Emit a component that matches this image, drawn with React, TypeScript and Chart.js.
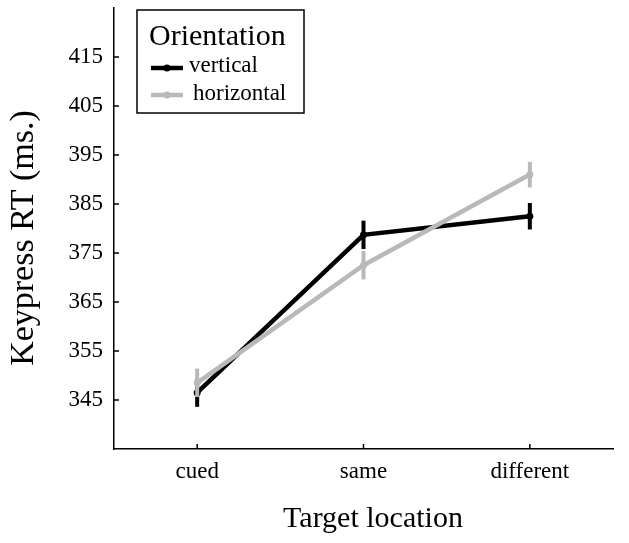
import React, { useEffect, useRef } from "react";
import { Chart, registerables } from "chart.js";

Chart.register(...registerables);

const categories = ["cued", "same", "different"];
const seriesNames = ["vertical", "horizontal"];
const verticalValues = [346.5, 378.7, 382.5];
const horizontalValues = [348.5, 372.5, 391.0];
const verticalErrors = [2.9, 2.9, 2.7];
const horizontalErrors = [2.9, 2.9, 2.6];
const yTickValues = [345, 355, 365, 375, 385, 395, 405, 415];
const yMin = 335;
const yMax = 425;
const legendTitle = "Orientation";
const xTitle = "Target location";
const yTitle = "Keypress RT (ms.)";

const BLACK = "#000000";
const GRAY = "#b9b9b9";
const FONT = "'Liberation Serif', 'Times New Roman', serif";

export default function App() {
  const ref = useRef<HTMLCanvasElement | null>(null);

  useEffect(() => {
    const canvas = ref.current;
    if (!canvas) return;
    const errors = [verticalErrors, horizontalErrors];
    const colors = [BLACK, GRAY];

    const decor = {
      id: "decor",
      afterDatasetDraw(chart: any, args: any) {
        const ctx = chart.ctx;
        const ys = chart.scales.y;
        const idx = args.index;
        const ds = chart.data.datasets[idx];
        const errs = errors[idx];
        ctx.save();
        ctx.strokeStyle = colors[idx];
        ctx.lineWidth = 4;
        ctx.lineCap = "butt";
        args.meta.data.forEach((pt: any, i: number) => {
          const v = ds.data[i] as number;
          const top = ys.getPixelForValue(v + errs[i]);
          const bot = ys.getPixelForValue(v - errs[i]);
          ctx.beginPath();
          ctx.moveTo(pt.x, top);
          ctx.lineTo(pt.x, bot);
          ctx.stroke();
        });
        ctx.restore();
      },
      afterDraw(chart: any) {
        const ctx = chart.ctx;
        const area = chart.chartArea;
        const xs = chart.scales.x;
        const ys = chart.scales.y;
        ctx.save();
        // inward ticks
        ctx.strokeStyle = "#000";
        ctx.lineWidth = 1.5;
        ys.ticks.forEach((t: any) => {
          const y = ys.getPixelForValue(t.value);
          ctx.beginPath();
          ctx.moveTo(area.left, y);
          ctx.lineTo(area.left + 5, y);
          ctx.stroke();
        });
        xs.ticks.forEach((_t: any, i: number) => {
          const x = xs.getPixelForTick(i);
          ctx.beginPath();
          ctx.moveTo(x, area.bottom);
          ctx.lineTo(x, area.bottom - 5);
          ctx.stroke();
        });
        // axis titles
        ctx.fillStyle = "#000";
        ctx.font = `30px ${FONT}`;
        ctx.textAlign = "center";
        ctx.textBaseline = "alphabetic";
        ctx.fillText(xTitle, 373, 527);
        ctx.save();
        ctx.translate(24, 238);
        ctx.rotate(-Math.PI / 2);
        ctx.font = `34px ${FONT}`;
        ctx.textBaseline = "middle";
        ctx.fillText(yTitle, 0, 0);
        ctx.restore();
        // legend
        ctx.fillStyle = "#fff";
        ctx.fillRect(137, 10, 167, 103);
        ctx.strokeStyle = "#000";
        ctx.lineWidth = 1.5;
        ctx.strokeRect(137, 10, 167, 103);
        ctx.fillStyle = "#000";
        ctx.textAlign = "left";
        ctx.textBaseline = "alphabetic";
        ctx.font = `30px ${FONT}`;
        ctx.fillText(legendTitle, 149, 45);
        const rows = [
          { y: 68, tx: 189, ty: 72 },
          { y: 95, tx: 193, ty: 100 },
        ];
        chart.data.datasets.forEach((ds: any, i: number) => {
          const r = rows[i];
          ctx.strokeStyle = colors[i];
          ctx.fillStyle = colors[i];
          ctx.lineWidth = 4.5;
          ctx.beginPath();
          ctx.moveTo(151, r.y);
          ctx.lineTo(183, r.y);
          ctx.stroke();
          ctx.beginPath();
          ctx.arc(167, r.y, 3.5, 0, Math.PI * 2);
          ctx.fill();
          ctx.fillStyle = "#000";
          ctx.font = `23px ${FONT}`;
          ctx.fillText(ds.label, r.tx, r.ty);
        });
        ctx.restore();
      },
    };

    const chart = new Chart(canvas, {
      type: "line",
      data: {
        labels: categories,
        datasets: [
          {
            label: seriesNames[0],
            data: verticalValues,
            borderColor: BLACK,
            backgroundColor: BLACK,
            borderWidth: 4.5,
            pointRadius: 3.5,
            pointBorderWidth: 0,
            order: 1,
          },
          {
            label: seriesNames[1],
            data: horizontalValues,
            borderColor: GRAY,
            backgroundColor: GRAY,
            borderWidth: 4.5,
            pointRadius: 3.5,
            pointBorderWidth: 0,
            order: 0,
          },
        ],
      },
      options: {
        responsive: false,
        animation: false,
        layout: { padding: { left: 0, top: 8, right: 16, bottom: 0 } },
        plugins: {
          legend: { display: false },
          tooltip: { enabled: false },
        },
        scales: {
          x: {
            type: "category",
            offset: true,
            grid: { display: false, drawTicks: false },
            border: { display: true, color: "#000", width: 1.5 },
            ticks: {
              color: "#000",
              font: { family: FONT, size: 23 },
              padding: 9,
            },
            afterFit: (s: any) => {
              s.height = 94;
              s.paddingLeft = 0;
              s.paddingRight = 0;
            },
          },
          y: {
            min: yMin,
            max: yMax,
            grid: { display: false, drawTicks: false },
            border: { display: true, color: "#000", width: 1.5 },
            ticks: {
              color: "#000",
              font: { family: FONT, size: 23 },
              padding: 11,
            },
            afterBuildTicks: (s: any) => {
              s.ticks = yTickValues.map((v) => ({ value: v }));
            },
            afterFit: (s: any) => {
              s.width = 114;
              s.paddingTop = 0;
              s.paddingBottom = 0;
            },
          },
        },
      },
      plugins: [decor],
    });
    return () => chart.destroy();
  }, []);

  return (
    <canvas
      ref={ref}
      width={629}
      height={543}
      style={{ position: "fixed", left: 0, top: 0, display: "block" }}
    />
  );
}
